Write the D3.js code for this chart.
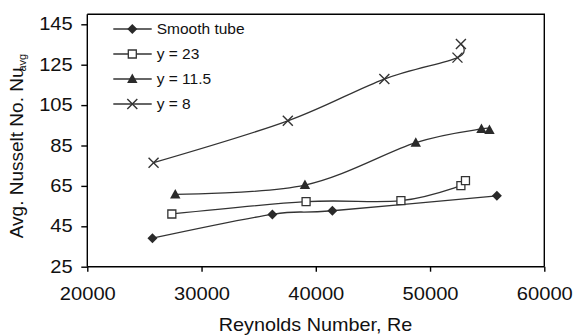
<!DOCTYPE html>
<html>
<head>
<meta charset="utf-8">
<script src="https://cdn.jsdelivr.net/npm/d3@7"></script>
<style>
  body { margin: 0; background: #fff; }
  svg { display: block; font-family: "Liberation Sans", Arial, sans-serif; }
  .axis path, .axis line { stroke: #000; stroke-width: 1.4; }
  .axis text { font-size: 17.5px; fill: #111; }
  .series { fill: none; stroke: #333; stroke-width: 1.3; }
</style>
</head>
<body>
<svg width="574" height="336"></svg>
<script>
// data
var smoothRe = [25700, 36200, 41450, 55850],
    smoothNu = [39.1, 50.9, 52.7, 60.1];
var y23Re = [27400, 39150, 47450, 52700, 53100],
    y23Nu = [51.1, 57.2, 57.7, 65.1, 67.6];
var y115Re = [27700, 39050, 48750, 54500, 55200],
    y115Nu = [60.8, 65.4, 86.4, 93.2, 92.7];
var y8Re = [25800, 37550, 46000, 52400, 52700],
    y8Nu = [76.5, 97.2, 117.9, 128.5, 135.3];

var seriesNames = ["Smooth tube", "y = 23", "y = 11.5", "y = 8"];
var xTicks = [20000, 30000, 40000, 50000, 60000];
var yTicks = [25, 45, 65, 85, 105, 125, 145];

var series = [
    { name: seriesNames[0], re: smoothRe, nu: smoothNu, marker: "diamond" },
    { name: seriesNames[1], re: y23Re, nu: y23Nu, marker: "square" },
    { name: seriesNames[2], re: y115Re, nu: y115Nu, marker: "triangle" },
    { name: seriesNames[3], re: y8Re, nu: y8Nu, marker: "cross" }
];

var svg = d3.select("svg"),
    margin = { top: 14.2, right: 29.7, bottom: 69.3, left: 87.3 },
    width = +svg.attr("width") - margin.left - margin.right,
    height = +svg.attr("height") - margin.top - margin.bottom;

var x = d3.scaleLinear().domain([20000, 60000]).range([0, width]),
    y = d3.scaleLinear().domain([25, 150]).range([height, 0]);

var g = svg.append("g")
    .attr("transform", "translate(" + margin.left + "," + margin.top + ")");

// plot frame (top and right)
g.append("path")
    .attr("d", "M0,0H" + width + "V" + height)
    .attr("fill", "none")
    .attr("stroke", "#000")
    .attr("stroke-width", 1.4);

var sx = 1.15; // text in the picture is a bit wide

var xAxis = g.append("g")
    .attr("class", "axis")
    .attr("transform", "translate(0," + height + ")")
    .call(d3.axisBottom(x).tickValues(xTicks).tickSize(5).tickFormat(d3.format("d")));
xAxis.select(".domain").attr("d", "M0,0H" + width);
xAxis.selectAll("text")
    .attr("y", 21).attr("dy", "0.71em")
    .attr("transform", "scale(" + sx + ",1)");

var yAxis = g.append("g")
    .attr("class", "axis")
    .call(d3.axisLeft(y).tickValues(yTicks).tickSize(6));
yAxis.select(".domain").attr("d", "M0,0V" + height);
yAxis.selectAll("text")
    .attr("x", -14.6 / sx)
    .attr("transform", "scale(" + sx + ",1)");

// smoothed lines, like the spreadsheet does
var line = d3.line()
    .x(function (d) { return x(d[0]); })
    .y(function (d) { return y(d[1]); })
    .curve(d3.curveCardinal.tension(0));

function symbolPath(type) {
    if (type === "diamond") return "M0,-5L5,0L0,5L-5,0Z";
    if (type === "square") return "M-4,-4H4V4H-4Z";
    if (type === "triangle") return "M0,-5.5L5.2,4L-5.2,4Z";
    return "M-5,-5L5,5M5,-5L-5,5";
}
function styleMarker(sel, type) {
    if (type === "square") sel.attr("fill", "#fff").attr("stroke", "#333").attr("stroke-width", 1.3);
    else if (type === "cross") sel.attr("fill", "none").attr("stroke", "#333").attr("stroke-width", 1.4);
    else sel.attr("fill", "#2a2a2a").attr("stroke", "none");
}

series.forEach(function (s) {
    var pts = s.re.map(function (r, i) { return [r, s.nu[i]]; });
    g.append("path")
        .attr("class", "series")
        .attr("d", line(pts));
    g.selectAll(".m-" + s.marker)
        .data(pts)
        .enter().append("path")
        .attr("class", "m-" + s.marker)
        .attr("d", symbolPath(s.marker))
        .attr("transform", function (d) { return "translate(" + x(d[0]) + "," + y(d[1]) + ")"; })
        .call(styleMarker, s.marker);
});

// legend
var legend = svg.append("g").attr("transform", "translate(113.3,29)");
var row = legend.selectAll("g")
    .data(series)
    .enter().append("g")
    .attr("transform", function (d, i) { return "translate(0," + (i * 25) + ")"; });
row.append("line")
    .attr("x1", 0).attr("x2", 38.4)
    .attr("stroke", "#333").attr("stroke-width", 1.3);
row.append("path")
    .attr("d", function (d) { return symbolPath(d.marker); })
    .attr("transform", "translate(19,0)")
    .each(function (d) { styleMarker(d3.select(this), d.marker); });
row.append("text")
    .attr("x", 43.4).attr("dy", "0.35em")
    .attr("font-size", "15.5px")
    .attr("fill", "#111")
    .text(function (d) { return d.name; });

// axis titles
svg.append("g")
    .attr("transform", "translate(315.5,331)")
    .append("text")
    .attr("text-anchor", "middle")
    .attr("font-size", "18px")
    .attr("fill", "#111")
    .attr("transform", "scale(1.1,1)")
    .text("Reynolds Number, Re");

var yt = svg.append("text")
    .attr("transform", "translate(22.7,146) rotate(-90)")
    .attr("text-anchor", "middle")
    .attr("font-size", "19px")
    .attr("fill", "#111");
yt.append("tspan").text("Avg. Nusselt No. Nu");
yt.append("tspan").attr("font-size", "11px").attr("dx", -4).attr("dy", 3).text("avg");
</script>
</body>
</html>
